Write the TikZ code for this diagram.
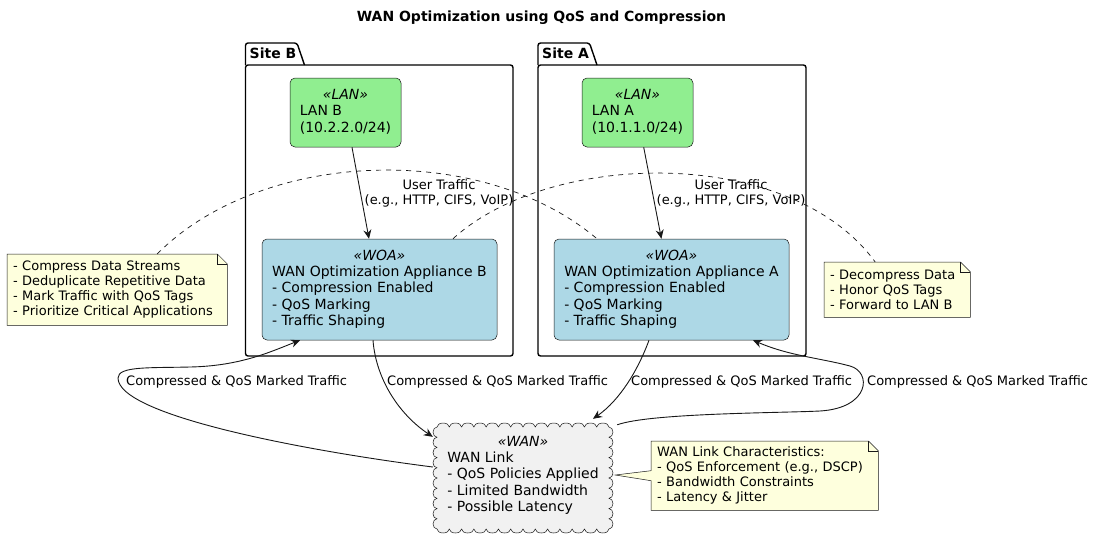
\documentclass[tikz,border=0pt]{standalone}
\usepackage{fontspec}
\setmainfont{DejaVu Sans}
\usetikzlibrary{arrows.meta}
\pgfdeclarelayer{bg}
\pgfsetlayers{bg,main}
\definecolor{ink}{HTML}{181818}
\definecolor{langreen}{HTML}{90EE90}
\definecolor{woablue}{HTML}{ADD8E6}
\definecolor{cloudgray}{HTML}{F1F1F1}
\definecolor{notey}{HTML}{FEFFDD}
\newcommand{\fsN}{\fontsize{14}{16.3}\selectfont}
\newcommand{\fsS}{\fontsize{13}{15.1}\selectfont}
\tikzset{
 box/.style={draw=ink, line width=0.5pt, rounded corners=5pt, inner sep=0pt, font=\fsN, anchor=center},
 lanbox/.style={box, fill=langreen, minimum width=111pt, minimum height=69pt},
 woabox/.style={box, fill=woablue, minimum width=235pt, minimum height=101pt},
 conn/.style={draw=ink, line width=0.9pt, -{Stealth[length=9pt,width=8pt,inset=3pt]}},
 noteline/.style={draw=ink, line width=0.7pt, dash pattern=on 5pt off 5pt},
 lbl/.style={font=\fsS, inner sep=0pt, text=black},
 notetext/.style={font=\fsS, align=left, inner xsep=6pt, inner ysep=0pt, anchor=north west},
 noteshape/.style={fill=notey, draw=ink, line width=0.5pt},
 pkg/.style={draw=black, line width=1.4pt, rounded corners=2.5pt},
 pkglabel/.style={font=\bfseries\fsN, anchor=west, inner sep=0pt},
}
\begin{document}
\begin{tikzpicture}[x=1pt,y=1pt]
\useasboundingbox (0,0) rectangle (1096,-542);

% title
\node[font=\bfseries\fsN] (title) at (541.5,-18) {WAN Optimization using QoS and Compression};

% packages
\node[pkglabel] (siteB) at (249.5,-53.5) {Site B};
\draw[pkg] (245.5,-65) -- (245.5,-43) -- (297,-43) -- (304.5,-65);
\draw[pkg] (245.5,-65) rectangle (513,-356);
\node[pkglabel] (siteA) at (542,-53.5) {Site A};
\draw[pkg] (538,-65) -- (538,-43) -- (589.5,-43) -- (597,-65);
\draw[pkg] (538,-65) rectangle (806,-356);

% LAN nodes
\node[lanbox] (lanB) at (345.5,-112.5) {\begin{tabular}{@{}l@{}}\multicolumn{1}{@{}c@{}}{\itshape «LAN»}\\LAN B\\(10.2.2.0/24)\end{tabular}};
\node[lanbox] (lanA) at (637.5,-112.5) {\begin{tabular}{@{}l@{}}\multicolumn{1}{@{}c@{}}{\itshape «LAN»}\\LAN A\\(10.1.1.0/24)\end{tabular}};

% WOA nodes
\node[woabox] (woaB) at (379.5,-289.5) {\begin{tabular}{@{}l@{}}\multicolumn{1}{@{}c@{}}{\itshape «WOA»}\\WAN Optimization Appliance B\\- Compression Enabled\\- QoS Marking\\- Traffic Shaping\end{tabular}};
\node[woabox] (woaA) at (671.5,-289.5) {\begin{tabular}{@{}l@{}}\multicolumn{1}{@{}c@{}}{\itshape «WOA»}\\WAN Optimization Appliance A\\- Compression Enabled\\- QoS Marking\\- Traffic Shaping\end{tabular}};

% WAN cloud
\node[font=\fsN, inner sep=0pt, minimum width=180pt, minimum height=105pt] (wan) at (523,-475.5) {\begin{tabular}{@{}l@{}}\multicolumn{1}{@{}c@{}}{\itshape «WAN»}\\WAN Link\\- QoS Policies Applied\\- Limited Bandwidth\\- Possible Latency\end{tabular}};

% notes
\node[notetext, text width=208pt, minimum height=71pt] (noteL) at (7,-254) {- Compress Data Streams\\- Deduplicate Repetitive Data\\- Mark Traffic with QoS Tags\\- Prioritize Critical Applications};
\node[notetext, text width=134pt, minimum height=55pt] (noteR) at (824,-262) {- Decompress Data\\- Honor QoS Tags\\- Forward to LAN B};
\node[notetext, text width=215pt, minimum height=69pt] (noteW) at (651,-441) {WAN Link Characteristics:\\- QoS Enforcement (e.g., DSCP)\\- Bandwidth Constraints\\- Latency \& Jitter};

\begin{pgfonlayer}{bg}
\fill[white] (0,0) rectangle (1096,-542);
\filldraw[fill=cloudgray, draw=ink, line width=0.5pt] (437,-427)
 \foreach \i in {1,...,14} { arc[start angle=180, end angle=0, x radius=6.142857, y radius=4] }
 \foreach \i in {1,...,10} { arc[start angle=90, end angle=-90, x radius=4, y radius=5.1] }
 \foreach \i in {1,...,14} { arc[start angle=0, end angle=-180, x radius=6.142857, y radius=4] }
 \foreach \i in {1,...,10} { arc[start angle=270, end angle=90, x radius=4, y radius=5.1] }
 -- cycle;
\path[noteshape] (noteL.north west) -- ([xshift=-10pt]noteL.north east) -- ([yshift=-10pt]noteL.north east) -- (noteL.south east) -- (noteL.south west) -- cycle;
\draw[ink, line width=0.5pt] ([xshift=-10pt]noteL.north east) |- ([yshift=-10pt]noteL.north east);
\path[noteshape] (noteR.north west) -- ([xshift=-10pt]noteR.north east) -- ([yshift=-10pt]noteR.north east) -- (noteR.south east) -- (noteR.south west) -- cycle;
\draw[ink, line width=0.5pt] ([xshift=-10pt]noteR.north east) |- ([yshift=-10pt]noteR.north east);
\path[noteshape] (noteW.north west) -- ([xshift=-10pt]noteW.north east) -- ([yshift=-10pt]noteW.north east) -- (noteW.south east) -- (noteW.south west) -- ([yshift=-5pt]noteW.west) -- ([xshift=2pt,yshift=0.5pt]wan.east) -- ([yshift=5pt]noteW.west) -- cycle;
\draw[ink, line width=0.5pt] ([xshift=-10pt]noteW.north east) |- ([yshift=-10pt]noteW.north east);
\end{pgfonlayer}

% LAN -> WOA
\draw[conn] ([xshift=6.5pt]lanB.south) -- ([xshift=-10.5pt]woaB.north);
\draw[conn] ([xshift=6.2pt]lanA.south) -- ([xshift=-10.1pt]woaA.north);
\node[lbl, align=center] (utB) at (439,-193) {User Traffic\\(e.g., HTTP, CIFS, VoIP)};
\node[lbl, align=center] (utA) at (731,-193) {User Traffic\\(e.g., HTTP, CIFS, VoIP)};

% WOA <-> WAN
\draw[conn] ([xshift=-6.5pt]woaB.south) .. controls (376,-380) and (400,-415) .. ([yshift=-14pt]wan.north west);
\draw[conn] ([yshift=8.5pt]wan.west) .. controls (300,-450) and (118,-415) .. (118,-378)
  .. controls (118,-366) and (150,-368) .. (190,-367)
  .. controls (240,-366) and (270,-352) .. ([xshift=-79.5pt]woaB.south);
\draw[conn] ([xshift=-22.5pt]woaA.south) .. controls (638,-370) and (620,-400) .. ([xshift=70pt,yshift=4pt]wan.north);
\draw[conn] ([xshift=4pt,yshift=-2pt]wan.north east) .. controls (650,-413) and (780,-413) .. (820,-411)
  .. controls (870,-408) and (872,-372) .. (850,-366)
  .. controls (820,-358) and (790,-356) .. ([xshift=81.5pt]woaA.south);
\node[lbl, anchor=west] (c1) at (126,-382) {Compressed \& QoS Marked Traffic};
\node[lbl, anchor=west] (c2) at (387,-382) {Compressed \& QoS Marked Traffic};
\node[lbl, anchor=west] (c3) at (631,-382) {Compressed \& QoS Marked Traffic};
\node[lbl, anchor=west] (c4) at (867,-382) {Compressed \& QoS Marked Traffic};

% note links
\draw[noteline] ([xshift=40pt]noteL.north) .. controls (260,-150) and (480,-140) .. ([xshift=-74.5pt]woaA.north);
\draw[noteline] ([xshift=73.5pt]woaB.north) .. controls (550,-150) and (790,-145) .. ([xshift=-22pt]noteR.north);
\end{tikzpicture}
\end{document}
